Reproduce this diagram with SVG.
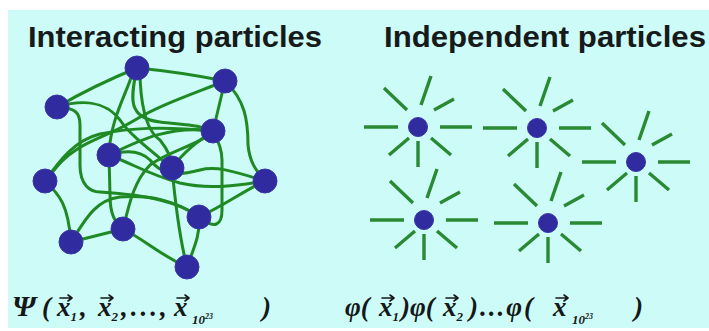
<svg xmlns="http://www.w3.org/2000/svg" xmlns:xlink="http://www.w3.org/1999/xlink" width="709" height="331" viewBox="0 0 709 331">
<style>
.title{font-family:"Liberation Sans",Arial,sans-serif;font-weight:bold;font-size:29px;fill:#161a1a}
.f{font-family:"Liberation Serif","Times New Roman",serif;font-weight:bold;font-style:italic;font-size:27px;fill:#141818}
.big{font-size:30px}
.sub{font-size:13px}
.sup{font-size:8px}
.node{fill:#302b9e;stroke:#3a36a8;stroke-width:1}
.edge{fill:none;stroke:#1f8a24;stroke-width:3;stroke-linecap:round}
.ray{fill:none;stroke:#2a8a34;stroke-width:3.4;stroke-linecap:butt}
.vec{fill:none;stroke:#141818;stroke-width:1.6;stroke-linecap:round;stroke-linejoin:round}
</style>
<defs>
<g id="rays">
<path class="ray" d="M-54,0H-20M22,0H54M3,-22L13,-51M0,14V40M-34,-39L-11,-17M16,-17L36,-28M-29,28L-9,11M13,11L33,28"/>
</g>
<path id="arr" class="vec" d="M0,0H12M8,-3L12,0L8,3"/>
</defs>
<rect x="0" y="0" width="709" height="331" fill="#ffffff"/>
<rect x="8" y="10" width="701" height="318" fill="#cdfbf7"/>
<text class="title" x="28" y="47" textLength="294" lengthAdjust="spacingAndGlyphs">Interacting particles</text>
<text class="title" x="384" y="47" textLength="322" lengthAdjust="spacingAndGlyphs">Independent particles</text>
<g id="connectors">
<path class="edge" d="M137,68 Q95,85 57,107"/>
<path class="edge" d="M137,68 Q180,72 225,81"/>
<path class="edge" d="M133,72 C126,95 110,120 109,155"/>
<path class="edge" d="M137,68 C130,100 128,118 160,122 C185,125 200,125 213,131"/>
<path class="edge" d="M225,81 L213,131"/>
<path class="edge" d="M225,81 C245,100 248,120 248,145 C250,165 258,172 265,181"/>
<path class="edge" d="M225,81 C190,95 160,105 135,120 C110,135 90,140 76,150 C60,160 55,170 45,181"/>
<path class="edge" d="M57,107 C75,108 80,112 80,125 L80,165 C80,185 90,192 100,192 C130,194 145,196 160,200 C180,205 190,210 199,217"/>
<path class="edge" d="M45,181 C60,195 68,205 71,242"/>
<path class="edge" d="M45,181 C60,160 75,140 100,134 C130,128 160,126 213,131"/>
<path class="edge" d="M71,242 L123,229"/>
<path class="edge" d="M71,242 C85,220 95,200 120,197 C150,195 175,200 199,217"/>
<path class="edge" d="M123,229 C145,240 160,255 187,267"/>
<path class="edge" d="M187,267 C195,245 200,235 199,217"/>
<path class="edge" d="M187,267 C180,240 175,200 172,168"/>
<path class="edge" d="M199,217 C225,205 245,190 265,181"/>
<path class="edge" d="M199,217 C215,230 222,225 222,210 L222,160 C222,150 218,140 213,131"/>
<path class="edge" d="M109,155 L110,195 C110,215 115,222 123,229"/>
<path class="edge" d="M109,155 C135,165 150,175 180,183 C210,190 240,185 265,181"/>
<path class="edge" d="M172,168 C185,150 200,140 213,131"/>
<path class="edge" d="M109,155 C140,140 170,125 213,131"/>
<path class="edge" d="M172,168 C150,150 130,135 120,120 C105,100 80,100 57,107"/>
<path class="edge" d="M140,70 C140,100 145,130 160,140 C168,150 172,160 172,168"/>
<path class="edge" d="M213,131 C200,145 170,150 150,165 C135,180 130,200 123,229"/>
<path class="edge" d="M109,155 C125,150 140,150 150,160 C160,172 170,178 200,170 C215,166 230,170 265,181"/>
</g>
<g id="p-top"><circle class="node" cx="137" cy="68" r="12"/></g>
<g id="p-topright"><circle class="node" cx="225" cy="81" r="12"/></g>
<g id="p-leftupper"><circle class="node" cx="57" cy="107" r="12"/></g>
<g id="p-rightmid"><circle class="node" cx="213" cy="131" r="12"/></g>
<g id="p-centerleft"><circle class="node" cx="109" cy="155" r="12"/></g>
<g id="p-center"><circle class="node" cx="172" cy="168" r="12"/></g>
<g id="p-left"><circle class="node" cx="45" cy="181" r="12"/></g>
<g id="p-right"><circle class="node" cx="265" cy="181" r="12"/></g>
<g id="p-lowerright"><circle class="node" cx="199" cy="217" r="12"/></g>
<g id="p-lowermid"><circle class="node" cx="123" cy="229" r="12"/></g>
<g id="p-lowerleft"><circle class="node" cx="71" cy="242" r="12"/></g>
<g id="p-bottom"><circle class="node" cx="187" cy="267" r="12"/></g>
<g id="star1" transform="translate(418,127)"><use xlink:href="#rays"/><circle class="node" r="9.5"/></g>
<g id="star2" transform="translate(537,128)"><use xlink:href="#rays"/><circle class="node" r="9.5"/></g>
<g id="star3" transform="translate(636,162)"><use xlink:href="#rays"/><circle class="node" r="9.5"/></g>
<g id="star4" transform="translate(424,220)"><use xlink:href="#rays"/><circle class="node" r="9.5"/></g>
<g id="star5" transform="translate(548,223)"><use xlink:href="#rays"/><circle class="node" r="9.5"/></g>
<g id="formula-left">
<text class="f" x="12" y="316"><tspan class="big">Ψ</tspan><tspan x="42">(</tspan><tspan x="57">x</tspan><tspan class="sub" dy="5">1</tspan><tspan x="80" dy="-5">,</tspan><tspan x="98">x</tspan><tspan class="sub" dy="5">2</tspan><tspan x="121" dy="-5" letter-spacing="3">,...,</tspan><tspan x="174">x</tspan><tspan class="sub" x="192" dy="8">10</tspan><tspan class="sup" dy="-5">23</tspan><tspan x="262" dy="-3">)</tspan></text>
<use xlink:href="#arr" x="60" y="298"/>
<use xlink:href="#arr" x="101" y="298"/>
<use xlink:href="#arr" x="177" y="298"/>
</g>
<g id="formula-right">
<text class="f" x="345" y="316">φ(<tspan x="379">x</tspan><tspan class="sub" dy="5">1</tspan><tspan x="401" dy="-5">)φ(</tspan><tspan x="443">x</tspan><tspan class="sub" dy="5">2</tspan><tspan x="469" dy="-5" letter-spacing="2">)...φ(</tspan><tspan x="553">x</tspan><tspan class="sub" x="572" dy="8">10</tspan><tspan class="sup" dy="-5">23</tspan><tspan x="634" dy="-3">)</tspan></text>
<use xlink:href="#arr" x="382" y="298"/>
<use xlink:href="#arr" x="446" y="298"/>
<use xlink:href="#arr" x="556" y="298"/>
</g>
</svg>
